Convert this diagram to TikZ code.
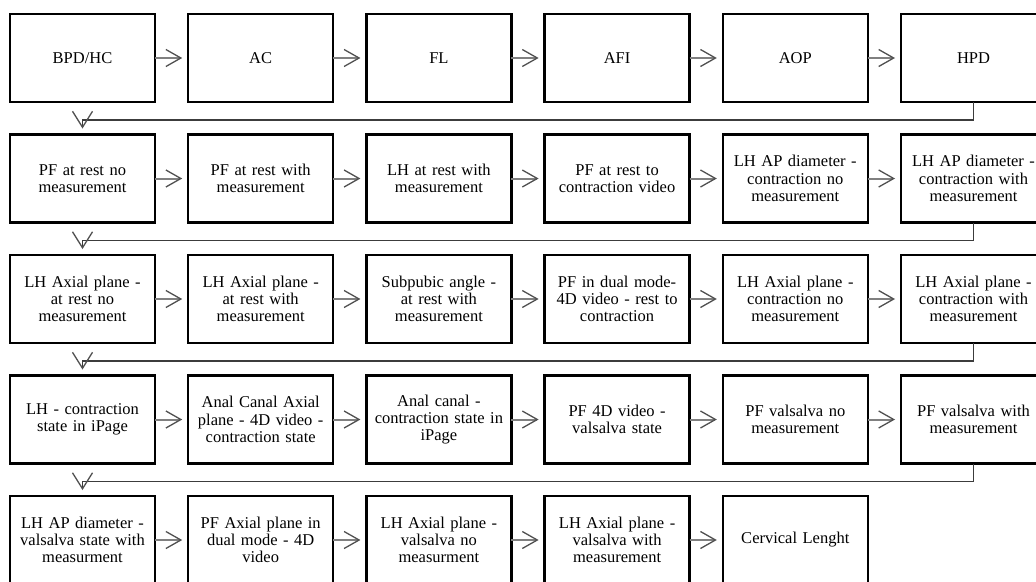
\documentclass[tikz,border=0pt]{standalone}
\usepackage{fontspec}
\setmainfont{Liberation Serif}
\newfontfamily\boxfont{Liberation Serif}[WordSpace=0.8]
\usetikzlibrary{arrows.meta}
\definecolor{arrowgrey}{HTML}{808080}
\definecolor{barbgrey}{HTML}{505050}
\definecolor{retgrey}{HTML}{3C3C3C}
\tikzset{
  stepbox/.style={draw=black, line width=2.4pt, minimum width=145pt, minimum height=88pt,
    inner sep=0pt, outer sep=0pt, align=center, text width=140pt,
    font=\boxfont\fontsize{16.5}{17.3}\selectfont},
  nextarrow/.style={draw=arrowgrey, line width=2pt, shorten >=6pt,
    -{Straight Barb[length=15pt, width=17pt, line width=1.3pt, color=barbgrey]}},
  retarrow/.style={draw=retgrey, line width=1.4pt, shorten >=6pt,
    -{Straight Barb[length=16pt, width=20pt, line width=1.3pt, color=barbgrey]}}
}
\begin{document}
\begin{tikzpicture}[x=1pt, y=-1pt]
\useasboundingbox (0,0) rectangle (1036,581);
\clip (0,0) rectangle (1036,581);
\fill[white] (0,0) rectangle (1036,581);
% row 1
\node[stepbox] (r1c1) at (82.5+0*178.2, 58+0*120.5) {BPD/HC};
\node[stepbox] (r1c2) at (82.5+1*178.2, 58+0*120.5) {AC};
\node[stepbox] (r1c3) at (82.5+2*178.2, 58+0*120.5) {FL};
\node[stepbox] (r1c4) at (82.5+3*178.2, 58+0*120.5) {AFI};
\node[stepbox] (r1c5) at (82.5+4*178.2, 58+0*120.5) {AOP};
\node[stepbox] (r1c6) at (82.5+5*178.2, 58+0*120.5) {HPD};
% row 2
\node[stepbox] (r2c1) at (82.5+0*178.2, 58+1*120.5) {PF at rest no\\measurement};
\node[stepbox] (r2c2) at (82.5+1*178.2, 58+1*120.5) {PF at rest with\\measurement};
\node[stepbox] (r2c3) at (82.5+2*178.2, 58+1*120.5) {LH at rest with\\measurement};
\node[stepbox] (r2c4) at (82.5+3*178.2, 58+1*120.5) {PF at rest to\\contraction video};
\node[stepbox] (r2c5) at (82.5+4*178.2, 58+1*120.5) {LH AP diameter -\\contraction no\\measurement};
\node[stepbox] (r2c6) at (82.5+5*178.2, 58+1*120.5) {LH AP diameter -\\contraction with\\measurement};
% row 3
\node[stepbox] (r3c1) at (82.5+0*178.2, 58+2*120.5) {LH Axial plane -\\at rest no\\measurement};
\node[stepbox] (r3c2) at (82.5+1*178.2, 58+2*120.5) {LH Axial plane -\\at rest with\\measurement};
\node[stepbox] (r3c3) at (82.5+2*178.2, 58+2*120.5) {Subpubic angle -\\at rest with\\measurement};
\node[stepbox] (r3c4) at (82.5+3*178.2, 58+2*120.5) {PF in dual mode-\\4D video - rest to\\contraction};
\node[stepbox] (r3c5) at (82.5+4*178.2, 58+2*120.5) {LH Axial plane -\\contraction no\\measurement};
\node[stepbox] (r3c6) at (82.5+5*178.2, 58+2*120.5) {LH Axial plane -\\contraction with\\measurement};
% row 4
\node[stepbox] (r4c1) at (82.5+0*178.2, 58+3*120.5) {LH - contraction\\state in iPage};
\node[stepbox] (r4c2) at (82.5+1*178.2, 58+3*120.5) {Anal Canal Axial\\plane - 4D video -\\contraction state};
\node[stepbox] (r4c3) at (82.5+2*178.2, 58+3*120.5) {Anal canal -\\contraction state in\\iPage};
\node[stepbox] (r4c4) at (82.5+3*178.2, 58+3*120.5) {PF 4D video -\\valsalva state};
\node[stepbox] (r4c5) at (82.5+4*178.2, 58+3*120.5) {PF valsalva no\\measurement};
\node[stepbox] (r4c6) at (82.5+5*178.2, 58+3*120.5) {PF valsalva with\\measurement};
% row 5
\node[stepbox] (r5c1) at (82.5+0*178.2, 58+4*120.5) {LH AP diameter -\\valsalva state with\\measurment};
\node[stepbox] (r5c2) at (82.5+1*178.2, 58+4*120.5) {PF Axial plane in\\dual mode - 4D\\video};
\node[stepbox] (r5c3) at (82.5+2*178.2, 58+4*120.5) {LH Axial plane -\\valsalva no\\measurment};
\node[stepbox] (r5c4) at (82.5+3*178.2, 58+4*120.5) {LH Axial plane -\\valsalva with\\measurement};
\node[stepbox] (r5c5) at (82.5+4*178.2, 58+4*120.5) {Cervical Lenght};
% horizontal arrows
\foreach \r in {1,2,3,4}{
  \foreach \c [evaluate=\c as \n using int(\c+1)] in {1,...,5}{
    \draw[nextarrow] (r\r c\c.east) -- (r\r c\n.west);
  }
}
\foreach \c [evaluate=\c as \n using int(\c+1)] in {1,...,4}{
  \draw[nextarrow] (r5c\c.east) -- (r5c\n.west);
}
% return arrows
\foreach \r [evaluate=\r as \n using int(\r+1)] in {1,2,3,4}{
  \draw[retarrow] (r\r c6.south) -- ++(0,18) -| (r\n c1.north);
}
\end{tikzpicture}
\end{document}
